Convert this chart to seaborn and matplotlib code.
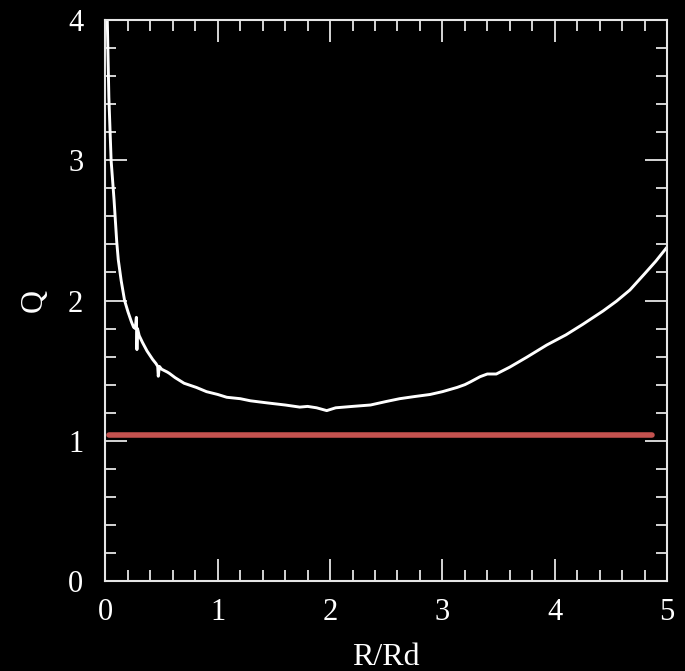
import numpy as np
import pandas as pd
import matplotlib
matplotlib.use("Agg")
import matplotlib.pyplot as plt
import seaborn as sns
from matplotlib.ticker import MultipleLocator

# Q profile (white curve)
r_vals = [0.016, 0.03, 0.05, 0.076, 0.10, 0.114, 0.14, 0.17, 0.20, 0.23, 0.25, 0.265,
          0.275, 0.28, 0.285, 0.30, 0.33, 0.37, 0.42, 0.45, 0.465, 0.47, 0.48, 0.50,
          0.55, 0.57, 0.62, 0.70, 0.81, 0.90, 1.00, 1.08, 1.20, 1.29, 1.44, 1.60,
          1.73, 1.80, 1.88, 1.97, 2.05, 2.20, 2.36, 2.50, 2.62, 2.75, 2.89, 3.00,
          3.13, 3.20, 3.25, 3.336, 3.40, 3.48, 3.60, 3.75, 3.93, 4.10, 4.25, 4.43,
          4.55, 4.67, 4.80, 4.90, 5.00]
q_vals = [4.00, 3.45, 3.00, 2.72, 2.42, 2.29, 2.14, 2.00, 1.92, 1.85, 1.81, 1.80,
          1.88, 1.65, 1.80, 1.75, 1.70, 1.64, 1.58, 1.55, 1.53, 1.46, 1.53, 1.51,
          1.49, 1.48, 1.45, 1.41, 1.38, 1.35, 1.33, 1.31, 1.30, 1.285, 1.27, 1.255,
          1.24, 1.245, 1.235, 1.215, 1.235, 1.245, 1.255, 1.28, 1.30, 1.315, 1.33, 1.35,
          1.38, 1.40, 1.42, 1.457, 1.476, 1.476, 1.525, 1.595, 1.683, 1.755, 1.83, 1.925,
          1.995, 2.075, 2.19, 2.28, 2.38]

# Threshold line (red)
line_r = [0.03, 4.87]
line_q = [1.04, 1.04]

x_ticks = [0, 1, 2, 3, 4, 5]
y_ticks = [0, 1, 2, 3, 4]

sns.set_style("dark")
plt.rcParams['font.family'] = ['Liberation Serif', 'DejaVu Serif']

fig = plt.figure(figsize=(6.85, 6.71), dpi=100, facecolor='black')
ax = fig.add_axes([0.154, 0.1341, 0.8197, 0.8361])
ax.set_facecolor('black')

curve = pd.DataFrame({"R": r_vals, "Q": q_vals})
thr = pd.DataFrame({"R": line_r, "Q": line_q})
sns.lineplot(data=thr, x="R", y="Q", ax=ax, color="#c4524f", linewidth=4.0, sort=False)
sns.lineplot(data=curve, x="R", y="Q", ax=ax, color="white", linewidth=2.1, sort=False)

ax.set_xlim(0, 5)
ax.set_ylim(0, 4)
ax.set_xticks(x_ticks)
ax.set_yticks(y_ticks)
ax.xaxis.set_minor_locator(MultipleLocator(0.2))
ax.yaxis.set_minor_locator(MultipleLocator(0.2))
ax.grid(False)

axcol = '#e6e6e6'
for s in ax.spines.values():
    s.set_visible(True)
    s.set_color(axcol)
    s.set_linewidth(1.5)

ax.tick_params(which='both', direction='in', top=True, right=True, bottom=True, left=True,
               colors=axcol, labelcolor='white', width=1.3)
ax.tick_params(which='major', length=16, labelsize=22)
ax.tick_params(axis='x', which='major', pad=12)
ax.tick_params(axis='y', which='major', pad=16)
ax.tick_params(which='minor', length=8)

ax.set_xlabel("R/Rd", color='white', fontsize=23, labelpad=12)
ax.set_ylabel("Q", color='white', fontsize=23, labelpad=14)

fig.savefig("out.png", dpi=100, facecolor='black')
